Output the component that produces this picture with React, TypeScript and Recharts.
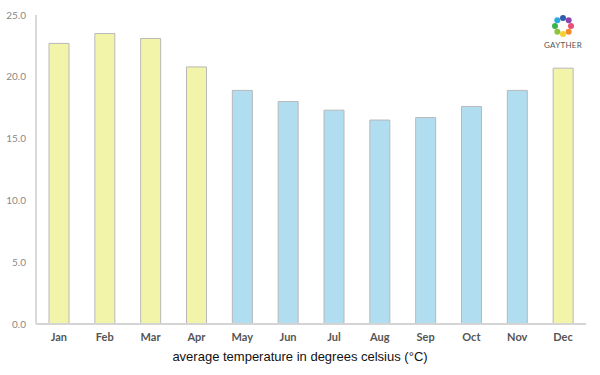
import React from "react";
import { BarChart, Bar, XAxis, YAxis, Cell } from "recharts";

const months = ["Jan", "Feb", "Mar", "Apr", "May", "Jun", "Jul", "Aug", "Sep", "Oct", "Nov", "Dec"];
const temps = [22.7, 23.5, 23.1, 20.8, 18.9, 18.0, 17.3, 16.5, 16.7, 17.6, 18.9, 20.7];
const summer = [true, true, true, true, false, false, false, false, false, false, false, true];
const yTicks = [0, 5, 10, 15, 20, 25];

const data = months.map((m, i) => ({ month: m, temp: temps[i], warm: summer[i] }));

const logoColors = ["#e94e77", "#f28c28", "#f6d02f", "#8cc63f", "#39b54a", "#29abe2", "#2e5ea8", "#8e44ad"];

const Logo = () => (
  <div style={{ position: "absolute", left: 538, top: 14, width: 50, textAlign: "center" }}>
    <svg width={24} height={24} viewBox="0 0 24 24">
      {logoColors.map((c, i) => {
        const a = (i / logoColors.length) * Math.PI * 2;
        return <circle key={i} cx={12 + 8 * Math.cos(a)} cy={12 + 8 * Math.sin(a)} r={3} fill={c} />;
      })}
    </svg>
    <div style={{ fontFamily: "Lato, sans-serif", fontSize: 8, color: "#555", marginTop: -2, letterSpacing: 0.3 }}>
      GAYTHER
    </div>
  </div>
);

export default function App() {
  return (
    <div style={{ position: "absolute", left: 0, top: 0, width: 600, height: 375, background: "#fff" }}>
      <BarChart width={600} height={375} data={data} margin={{ top: 15, right: 14, bottom: 21, left: 0 }}>
        <XAxis
          dataKey="month"
          height={30}
          tickLine={false}
          axisLine={{ stroke: "#d4d4d4", strokeWidth: 2 }}
          tick={{ fill: "#555", fontSize: 11, fontWeight: "bold", fontFamily: "Lato, sans-serif" }}
          tickMargin={3}
        />
        <YAxis
          width={36}
          domain={[0, 25]}
          ticks={yTicks}
          tickFormatter={(v: number) => v.toFixed(1)}
          tickLine={false}
          axisLine={{ stroke: "#d9d9d9", strokeWidth: 2 }}
          tick={{ fill: "#888", fontSize: 10, fontFamily: "Lato, sans-serif" }}
          tickMargin={4}
        />
        <Bar dataKey="temp" barSize={20} stroke="#b8b8b8" strokeWidth={1} isAnimationActive={false}>
          {data.map((d, i) => (
            <Cell key={`cell-${i}`} fill={d.warm ? "#f2f4aa" : "#b0def0"} />
          ))}
        </Bar>
      </BarChart>
      <div
        style={{
          position: "absolute",
          left: 0,
          top: 349,
          width: 600,
          textAlign: "center",
          fontFamily: "'Liberation Sans', Arial, sans-serif",
          fontSize: 13,
          color: "#111",
        }}
      >
        average temperature in degrees celsius (°C)
      </div>
      <Logo />
    </div>
  );
}
